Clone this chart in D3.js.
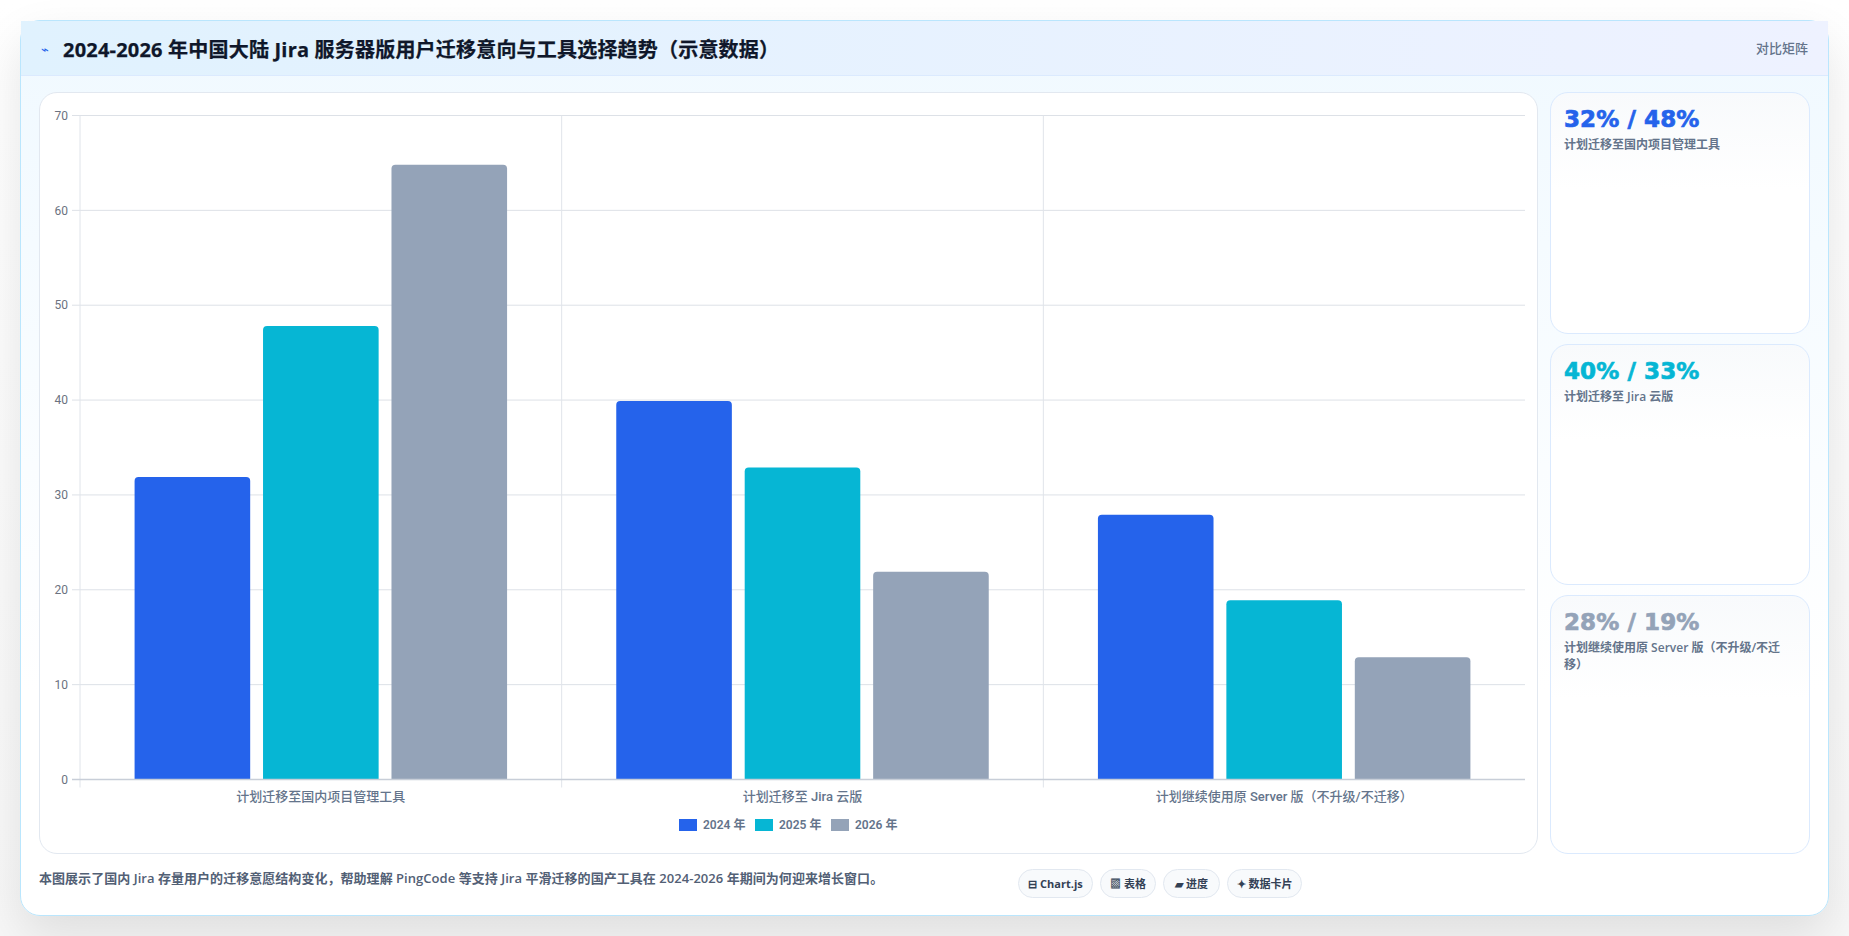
<!DOCTYPE html>
<html lang="zh-CN">
<head>
<meta charset="utf-8">
<title>Jira 迁移趋势</title>
<script src="https://cdn.jsdelivr.net/npm/d3@7/dist/d3.min.js"></script>
<style>
*{box-sizing:border-box;margin:0;padding:0}
html,body{width:1849px;height:936px;overflow:hidden;background:#fff;font-family:"Open Sans","Noto Sans CJK SC",sans-serif}
body{background:linear-gradient(180deg,#ffffff 0%,#f7f7f7 100%)}
#card{position:absolute;left:20px;top:20px;width:1809px;height:896px;border:1px solid #bae6fd;border-radius:20px;background:linear-gradient(180deg,#f0f9ff 0%,#ffffff 75%);box-shadow:0 20px 48px rgba(0,0,0,.10)}
#head{position:absolute;left:0;top:0;width:1807px;height:55px;background:linear-gradient(90deg,#e0f2fe,#eef2ff);border-bottom:1px solid #dbeafe}
#icon{position:absolute;left:20px;top:18px;font-size:13px;color:#2563eb;line-height:20px}
#title{position:absolute;left:42px;top:14px;font-size:20px;font-weight:700;letter-spacing:.2px;-webkit-text-stroke:.25px #0f172a;color:#0f172a;line-height:30px;white-space:nowrap}
#mode{position:absolute;right:20px;top:17px;font-size:13px;color:#64748b;line-height:20px;font-weight:500}
#panel{position:absolute;left:18px;top:71px;width:1499px;height:762px;background:#fff;border:1px solid #e2e8f0;border-radius:18px}
#chart{position:absolute;left:0;top:0}
.side{position:absolute;left:1529px;width:260px;border:1px solid #dbeafe;border-radius:18px;background:linear-gradient(180deg,#f8fafc,#ffffff 40%);padding:11px 13px}
.side .big{font-size:23px;font-weight:700;line-height:30px;letter-spacing:.1px;-webkit-text-stroke:.7px currentColor;font-family:"DejaVu Sans","Noto Sans CJK SC",sans-serif}
.side .sub{font-size:12px;font-weight:600;color:#64748b;line-height:17px;margin-top:2px}
#note{position:absolute;left:18px;top:847px;font-size:13px;font-weight:600;letter-spacing:.04px;color:#526075;line-height:20px;white-space:nowrap}
.chip{position:absolute;top:848px;height:29px;border:1px solid #e2e8f0;border-radius:15px;background:#f8fafc;font-size:11px;font-weight:700;color:#334155;line-height:27px;text-align:center;white-space:nowrap}
svg text{font-family:"Roboto","Noto Sans CJK SC",sans-serif}
</style>
</head>
<body>
<div id="card">
  <div id="head"><span id="icon"></span><span id="title"></span><span id="mode"></span></div>
  <div id="panel"></div>
  <div id="note"></div>
</div>
<script>
const titleText = "2024-2026 年中国大陆 Jira 服务器版用户迁移意向与工具选择趋势（示意数据）";
const modeText = "对比矩阵";
const noteText = "本图展示了国内 Jira 存量用户的迁移意愿结构变化，帮助理解 PingCode 等支持 Jira 平滑迁移的国产工具在 2024-2026 年期间为何迎来增长窗口。";
const categories = ["计划迁移至国内项目管理工具", "计划迁移至 Jira 云版", "计划继续使用原 Server 版（不升级/不迁移）"];
const years = ["2024 年", "2025 年", "2026 年"];
const values2024 = [31.9, 39.9, 27.9];
const values2025 = [47.8, 32.9, 18.9];
const values2026 = [64.8, 21.9, 12.9];
const yTicks = [0, 10, 20, 30, 40, 50, 60, 70];
const colors = ["#2563eb", "#06b6d4", "#94a3b8"];
const chips = ["⊟ Chart.js", "▩ 表格", "▰ 进度", "✦ 数据卡片"];
const chipLefts = [997, 1079, 1142, 1206];
const chipWidths = [75, 56, 57, 75];
const sideTops = [71, 323, 574];
const sideHeights = [242, 241, 259];

const series = [values2024, values2025, values2026];
d3.select("#icon").text("⌁");
d3.select("#title").text(titleText);
d3.select("#mode").text(modeText);
d3.select("#note").text(noteText);

const W = 1498, H = 762;
const plot = {l: 40, r: 1485, t: 22.5, b: 686.5};
const svg = d3.select("#panel").append("svg").attr("id","chart").attr("width",W).attr("height",H);
const x0 = d3.scaleBand().domain(categories).range([plot.l, plot.r]);
const bw = x0.bandwidth();
const x1 = d3.scaleBand().domain(years).range([bw*0.1, bw*0.9]).paddingInner(0.1).paddingOuter(0.05);
const y = d3.scaleLinear().domain([0,70]).range([plot.b, plot.t]);

svg.append("g").selectAll("line").data(yTicks).join("line")
  .attr("x1", plot.l-8).attr("x2", plot.r)
  .attr("y1", d=>y(d)).attr("y2", d=>y(d))
  .attr("stroke", "#dde1e7").attr("stroke-width", 1);
svg.append("g").selectAll("line").data([0,1,2]).join("line")
  .attr("x1", i=>plot.l+i*bw).attr("x2", i=>plot.l+i*bw)
  .attr("y1", plot.t).attr("y2", plot.b+8)
  .attr("stroke", "#e0e4ea");

svg.append("g").selectAll("text").data(yTicks).join("text")
  .attr("x", plot.l-12).attr("y", d=>y(d)).attr("dy","0.35em")
  .attr("text-anchor","end").attr("font-size",12).attr("fill","#6b7280").text(d=>d);

const rTop = (x,yy,w,h,r)=>{ const p=d3.path(); p.moveTo(x,yy+h); p.lineTo(x,yy+r); p.arcTo(x,yy,x+r,yy,r); p.lineTo(x+w-r,yy); p.arcTo(x+w,yy,x+w,yy+r,r); p.lineTo(x+w,yy+h); p.closePath(); return p.toString(); };
const groups = svg.append("g").selectAll("g").data(categories).join("g")
  .attr("transform", c=>`translate(${x0(c)},0)`);
groups.selectAll("path").data((c,i)=>years.map((yr,j)=>({yr,j,v:series[j][i]}))).join("path")
  .attr("d", d=>rTop(x1(d.yr), y(d.v), x1.bandwidth(), plot.b-y(d.v), 4))
  .attr("fill", d=>colors[d.j]);

svg.append("line").attr("x1",plot.l-8).attr("x2",plot.r).attr("y1",plot.b).attr("y2",plot.b).attr("stroke","#c8ced8").attr("stroke-width",1.5);

svg.append("g").selectAll("text").data(categories).join("text")
  .attr("x", c=>x0(c)+bw/2).attr("y", plot.b+17).attr("dy","0.35em")
  .attr("text-anchor","middle").attr("font-size",13).attr("font-weight",500).attr("fill","#64748b").text(c=>c);

const lg = svg.append("g").selectAll("g").data(years).join("g")
  .attr("transform",(d,i)=>`translate(${639+i*76},726)`);
lg.append("rect").attr("width",18).attr("height",12).attr("fill",(d,i)=>colors[i]);
lg.append("text").attr("x",24).attr("y",6).attr("dy","0.35em").attr("font-size",12).attr("font-weight",600).attr("fill","#64748b").text(d=>d);

categories.forEach((c,i)=>{
  const s = d3.select("#card").append("div").attr("class","side").style("top",sideTops[i]+"px").style("height",sideHeights[i]+"px");
  s.append("div").attr("class","big").style("color",colors[i]).text(`${Math.round(values2024[i])}% / ${Math.round(values2025[i])}%`);
  s.append("div").attr("class","sub").text(c);
});

chips.forEach((t,i)=>{
  d3.select("#card").append("div").attr("class","chip").style("left",chipLefts[i]+"px").style("width",chipWidths[i]+"px").text(t);
});
</script>
</body>
</html>
